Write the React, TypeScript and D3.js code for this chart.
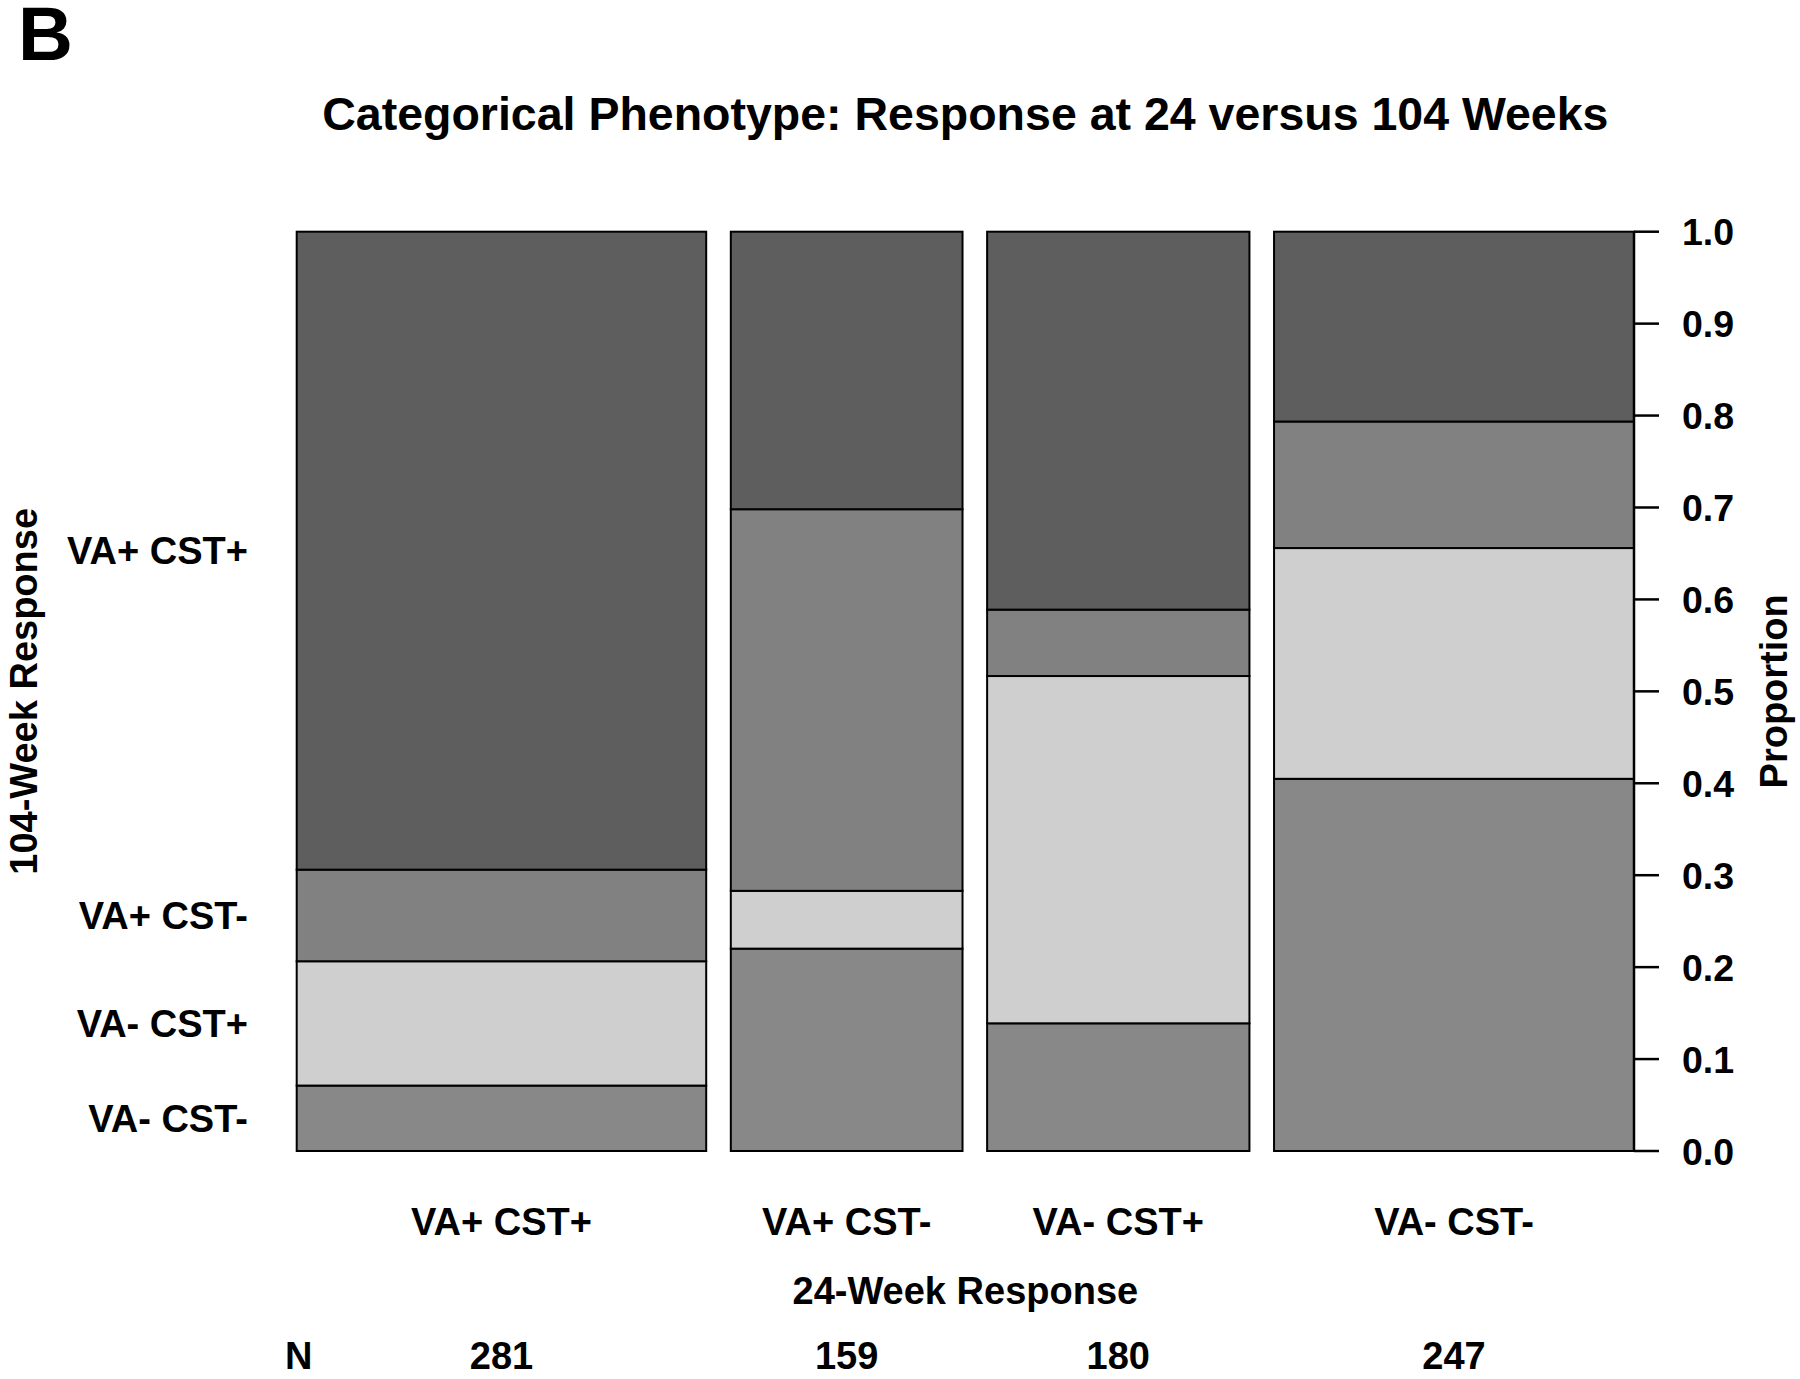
import React, { useEffect, useRef } from "react";
import * as d3 from "d3";

// 24-week response categories (x) and their totals
const categories24 = ["VA+ CST+", "VA+ CST-", "VA- CST+", "VA- CST-"];
const nTotals = [281, 159, 180, 247];

// 104-week response labels (bottom to top in each bar)
const categories104 = ["VA- CST-", "VA- CST+", "VA+ CST-", "VA+ CST+"];

// counts per 104-week category, one value per 24-week bar
const vaNegCstNeg = [20, 35, 25, 100];
const vaNegCstPos = [38, 10, 68, 62];
const vaPosCstNeg = [28, 66, 13, 34];
const vaPosCstPos = [195, 48, 74, 51];

const segmentFills = ["#888888", "#cfcfcf", "#818181", "#5e5e5e"];
const yTicks = [0, 0.1, 0.2, 0.3, 0.4, 0.5, 0.6, 0.7, 0.8, 0.9, 1.0];

const W = 1800;
const H = 1379;
const FONT = "'Liberation Sans', Arial, Helvetica, sans-serif";

export default function App() {
  const ref = useRef<SVGSVGElement>(null);

  useEffect(() => {
    const svg = d3.select(ref.current);
    svg.selectAll("*").remove();

    const left = 296.7;
    const right = 1634;
    const gap = 24.6;
    const totalN = d3.sum(nTotals);
    const x = d3
      .scaleLinear()
      .domain([0, totalN])
      .range([left, right - gap * (nTotals.length - 1)]);
    const y = d3.scaleLinear().domain([0, 1]).range([1151, 231.7]);

    const series = [vaNegCstNeg, vaNegCstPos, vaPosCstNeg, vaPosCstPos];

    let cum = 0;
    const bars = nTotals.map((n, i) => {
      const x0 = x(cum) + gap * i;
      const x1 = x(cum + n) + gap * i;
      cum += n;
      let acc = 0;
      const segs = series.map((s, k) => {
        const p0 = acc / n;
        acc += s[i];
        const p1 = acc / n;
        return { k, p0, p1 };
      });
      return { i, n, x0, x1, segs };
    });

    const g = svg.append("g");
    bars.forEach((b) => {
      g.selectAll(null)
        .data(b.segs)
        .enter()
        .append("rect")
        .attr("x", b.x0)
        .attr("width", b.x1 - b.x0)
        .attr("y", (d) => y(d.p1))
        .attr("height", (d) => y(d.p0) - y(d.p1))
        .attr("fill", (d) => segmentFills[d.k])
        .attr("stroke", "#000")
        .attr("stroke-width", 2);
    });

    // right axis
    const axis = svg.append("g");
    axis
      .append("line")
      .attr("x1", right)
      .attr("x2", right)
      .attr("y1", y(0))
      .attr("y2", y(1))
      .attr("stroke", "#000")
      .attr("stroke-width", 2.5);
    yTicks.forEach((t) => {
      axis
        .append("line")
        .attr("x1", right)
        .attr("x2", right + 25)
        .attr("y1", y(t))
        .attr("y2", y(t))
        .attr("stroke", "#000")
        .attr("stroke-width", 2.5);
      axis
        .append("text")
        .attr("x", 1682)
        .attr("y", y(t))
        .attr("dy", "0.36em")
        .attr("font-family", FONT)
        .attr("font-weight", "bold")
        .attr("font-size", 37.5)
        .text(t.toFixed(1));
    });

    svg
      .append("text")
      .attr("transform", `translate(1787,${(y(0) + y(1)) / 2}) rotate(-90)`)
      .attr("text-anchor", "middle")
      .attr("font-family", FONT)
      .attr("font-weight", "bold")
      .attr("font-size", 38)
      .text("Proportion");

    const first = bars[0];
    first.segs.forEach((s) => {
      svg
        .append("text")
        .attr("x", 248)
        .attr("y", y((s.p0 + s.p1) / 2))
        .attr("dy", "0.36em")
        .attr("text-anchor", "end")
        .attr("font-family", FONT)
        .attr("font-weight", "bold")
        .attr("font-size", 38)
        .text(categories104[s.k]);
    });

    svg
      .append("text")
      .attr("transform", `translate(37,${(y(0) + y(1)) / 2}) rotate(-90)`)
      .attr("text-anchor", "middle")
      .attr("font-family", FONT)
      .attr("font-weight", "bold")
      .attr("font-size", 38)
      .text("104-Week Response");

    bars.forEach((b) => {
      const cx = (b.x0 + b.x1) / 2;
      svg
        .append("text")
        .attr("x", cx)
        .attr("y", 1235)
        .attr("text-anchor", "middle")
        .attr("font-family", FONT)
        .attr("font-weight", "bold")
        .attr("font-size", 38)
        .text(categories24[b.i]);
      svg
        .append("text")
        .attr("x", cx)
        .attr("y", 1369)
        .attr("text-anchor", "middle")
        .attr("font-family", FONT)
        .attr("font-weight", "bold")
        .attr("font-size", 38)
        .text(String(b.n));
    });

    svg
      .append("text")
      .attr("x", 285)
      .attr("y", 1369)
      .attr("font-family", FONT)
      .attr("font-weight", "bold")
      .attr("font-size", 38)
      .text("N");

    svg
      .append("text")
      .attr("x", (left + right) / 2)
      .attr("y", 1304)
      .attr("text-anchor", "middle")
      .attr("font-family", FONT)
      .attr("font-weight", "bold")
      .attr("font-size", 38)
      .text("24-Week Response");

    svg
      .append("text")
      .attr("x", (left + right) / 2)
      .attr("y", 130)
      .attr("text-anchor", "middle")
      .attr("font-family", FONT)
      .attr("font-weight", "bold")
      .attr("font-size", 46.5)
      .text("Categorical Phenotype: Response at 24 versus 104 Weeks");

    svg
      .append("text")
      .attr("x", 18)
      .attr("y", 60)
      .attr("font-family", FONT)
      .attr("font-weight", "bold")
      .attr("font-size", 76)
      .text("B");
  }, []);

  return (
    <svg
      ref={ref}
      width={W}
      height={H}
      style={{ position: "absolute", left: 0, top: 0, background: "#fff" }}
    />
  );
}
